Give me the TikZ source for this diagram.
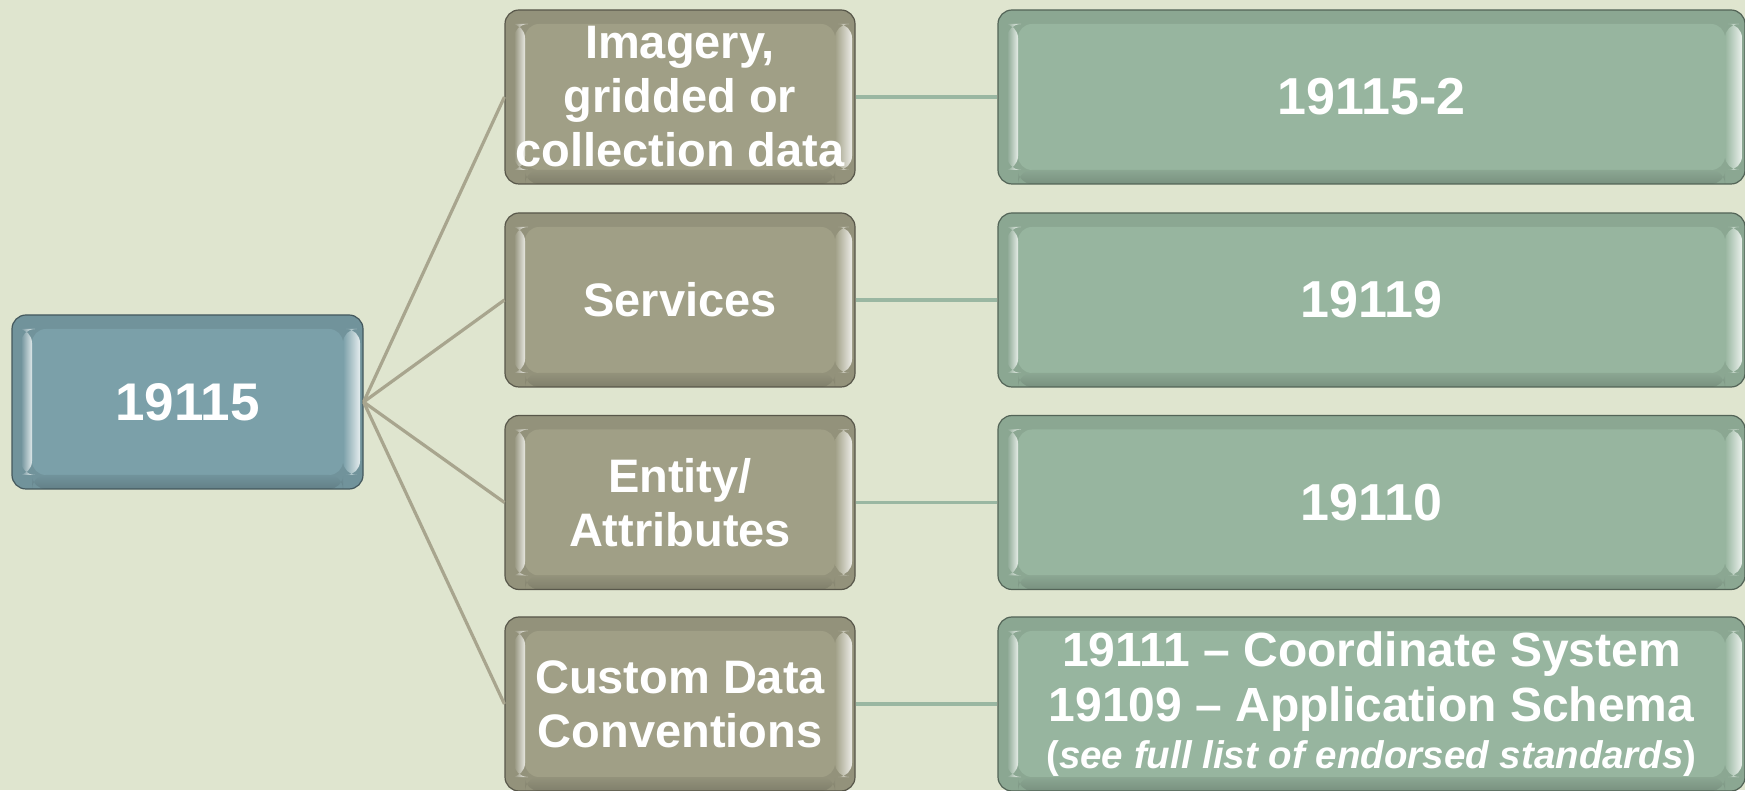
\documentclass[tikz,border=0pt]{standalone}
\usepackage{fontspec}
\setmainfont{Liberation Sans}
\usetikzlibrary{calc}
\definecolor{bg}{RGB}{223,229,207}
\definecolor{rootc}{RGB}{123,160,169}
\definecolor{midc}{RGB}{160,159,134}
\definecolor{rightc}{RGB}{151,181,159}
\definecolor{spokec}{RGB}{168,165,142}
\definecolor{linkc}{RGB}{154,183,162}
\tikzset{
  bevelbox/.style={rectangle, rounded corners=14pt, draw=#1!55!black, line width=1.2pt,
    fill=#1!92!black, inner sep=0pt, text=white, align=center,
    path picture={
      \path (path picture bounding box.south west) coordinate (sw)
            (path picture bounding box.north east) coordinate (ne);
      \fill[#1] ($(sw)+(20pt,14pt)$) rectangle ($(ne)+(-20pt,-14pt)$);
      \shade[left color=#1!92!black, right color=#1!25!white]
        ($(sw)+(9pt,14pt)$) rectangle ($(sw|-ne)+(20pt,-14pt)$);
      \shade[left color=#1, right color=#1!20!white]
        ($(ne|-sw)+(-20pt,14pt)$) rectangle ($(ne)+(-3pt,-14pt)$);
      \shade[top color=#1!92!black, bottom color=#1!80!black]
        ($(sw)+(20pt,0pt)$) rectangle ($(ne|-sw)+(-20pt,14pt)$);
    }},
  rootbox/.style={bevelbox=rootc, minimum width=351pt, minimum height=174pt},
  midbox/.style={bevelbox=midc, minimum width=350pt, minimum height=174pt,
    font=\fontsize{47}{54}\selectfont\bfseries},
  rightbox/.style={bevelbox=rightc, minimum width=747pt, minimum height=174pt,
    font=\fontsize{52}{56}\selectfont\bfseries},
  spoke/.style={draw=spokec, line width=3.2pt},
  link/.style={draw=linkc, line width=3.5pt},
}
\begin{document}
\begin{tikzpicture}[x=1pt,y=1pt]
\useasboundingbox (0,0) rectangle (1745,790);
\clip (0,0) rectangle (1745,790);
\fill[bg] (0,0) rectangle (1745,790);

\node[rootbox, font=\fontsize{53}{56}\selectfont\bfseries] (root) at (187.5,388) {19115};

\node[midbox] (m1) at (680,693) {Imagery,\\gridded or\\collection data};
\node[midbox] (m2) at (680,490) {Services};
\node[midbox] (m3) at (680,287.5) {Entity/\\Attributes};
\node[midbox] (m4) at (680,86) {Custom Data\\Conventions};

\node[rightbox] (r1) at (1371.5,693) {19115-2};
\node[rightbox] (r2) at (1371.5,490) {19119};
\node[rightbox] (r3) at (1371.5,287.5) {19110};
\node[rightbox, font=\fontsize{48}{55}\selectfont\bfseries] (r4) at (1371.5,86)
  {19111 -- Coordinate System\\19109 -- Application Schema\\[-8pt]
   {\fontsize{38.5}{47}\selectfont (\textit{see full list of endorsed standards})}};

\draw[spoke] (root.east) -- (m1.west);
\draw[spoke] (root.east) -- (m2.west);
\draw[spoke] (root.east) -- (m3.west);
\draw[spoke] (root.east) -- (m4.west);

\draw[link] (m1.east) -- (r1.west);
\draw[link] (m2.east) -- (r2.west);
\draw[link] (m3.east) -- (r3.west);
\draw[link] (m4.east) -- (r4.west);
\end{tikzpicture}
\end{document}
